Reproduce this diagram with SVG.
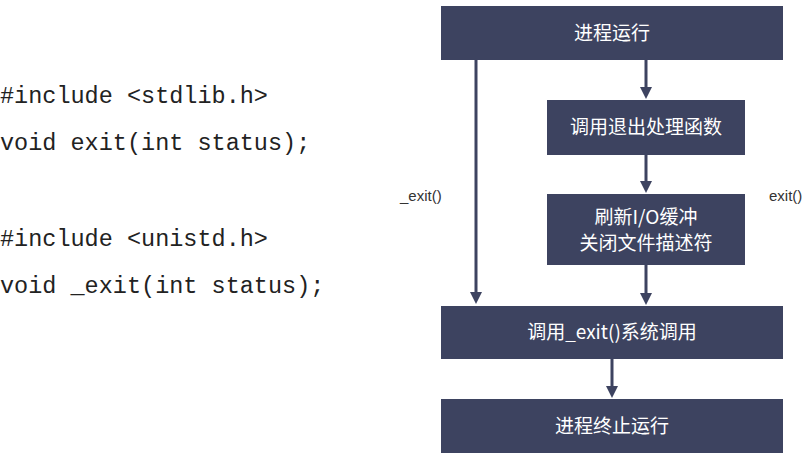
<svg xmlns="http://www.w3.org/2000/svg" width="812" height="459" viewBox="0 0 812 459">
<style>
.code{font-family:"Liberation Mono",monospace;font-size:23.5px;fill:#222}
.box{fill:#3d4360}
.t{font-family:"Noto Sans CJK SC","Noto Sans",sans-serif;font-size:19px;fill:#fff;text-anchor:middle}
.lbl{font-family:"Liberation Sans",sans-serif;font-size:15px;fill:#333}
.c{stroke:#3d4360;stroke-width:3;fill:none;marker-end:url(#a)}
</style>
<defs><marker id="a" markerWidth="4" markerHeight="4" refX="2" refY="2" orient="auto"><path d="M0,0L4,2L0,4z" fill="#3d4360"/></marker></defs>
<rect width="812" height="459" fill="#fff"/>
<text class="code" x="0" y="103">#include &lt;stdlib.h&gt;</text>
<text class="code" x="0" y="150">void exit(int status);</text>
<text class="code" x="0" y="246">#include &lt;unistd.h&gt;</text>
<text class="code" x="0" y="293">void _exit(int status);</text>
<g id="connectors">
<path class="c" d="M476,60V298"/>
<path class="c" d="M646,60V93"/>
<path class="c" d="M646,155V187"/>
<path class="c" d="M646,265V299"/>
<path class="c" d="M612,359V392"/>
</g>
<text class="lbl" x="400" y="201">_exit()</text>
<text class="lbl" x="769" y="201">exit()</text>
<g id="n1"><rect class="box" x="441" y="6" width="342" height="54"/><text class="t" x="612" y="40">进程运行</text></g>
<g id="n2"><rect class="box" x="547" y="100" width="198" height="55"/><text class="t" x="646" y="134">调用退出处理函数</text></g>
<g id="n3"><rect class="box" x="547" y="194" width="198" height="71"/><text class="t" x="646" y="224">刷新I/O缓冲</text><text class="t" x="646" y="250">关闭文件描述符</text></g>
<g id="n4"><rect class="box" x="441" y="306" width="342" height="53"/><text class="t" x="612" y="339">调用_exit()系统调用</text></g>
<g id="n5"><rect class="box" x="441" y="399" width="342" height="54"/><text class="t" x="612" y="433">进程终止运行</text></g>
</svg>
